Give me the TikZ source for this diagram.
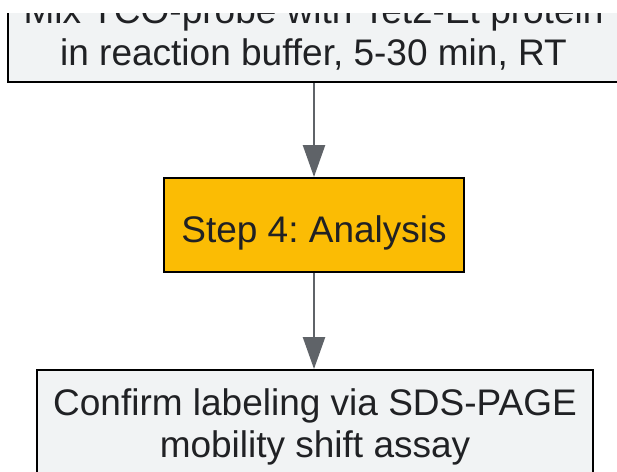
\documentclass[tikz,border=0pt]{standalone}
\usepackage{fontspec}
\setmainfont{Liberation Sans}
\frenchspacing
\usetikzlibrary{arrows.meta}
\definecolor{boxgray}{HTML}{F1F3F4}
\definecolor{boxgold}{HTML}{FBBC04}
\definecolor{linegray}{HTML}{5F6368}
\definecolor{txt}{HTML}{202124}
\tikzset{
  boxbase/.style={draw=black, line width=2pt, inner sep=0pt, rectangle},
  graybox/.style={boxbase, fill=boxgray},
  goldbox/.style={boxbase, fill=boxgold},
  lbl/.style={inner sep=0pt, align=center, text=txt, font=\fontsize{37}{42}\selectfont},
  flow/.style={draw=linegray, line width=2.5pt, -{Triangle[width=22pt,length=32pt]}}
}
\begin{document}
\begin{tikzpicture}[x=1pt,y=-1pt]
\useasboundingbox (0,0) rectangle (617,471);
\clip (0,0) rectangle (617,471);
\node[graybox, minimum width=613pt, minimum height=112pt] (mix) at (314.5,26) {};
\node[goldbox, minimum width=300pt, minimum height=94pt] (step) at (314,225) {};
\node[graybox, minimum width=556pt, minimum height=140pt] (conf) at (315,440) {};
\node[lbl] (mixt) at (313.5,35.6) {\strut Mix TCO-probe with Tet2-Et protein\\\strut in reaction buffer, 5-30 min, RT};
\node[lbl] (stept) at (314,233.6) {\strut Step 4: Analysis};
\node[lbl] (conft) at (315,427.6) {\strut Confirm labeling via SDS-PAGE\\\strut mobility shift assay};
\fill[white] (0,0) rectangle (617,12.5);
\draw[flow] (mix.south -| step.north) -- (step.north);
\draw[flow] (step.south) -- (step.south |- conf.north);
\end{tikzpicture}
\end{document}
